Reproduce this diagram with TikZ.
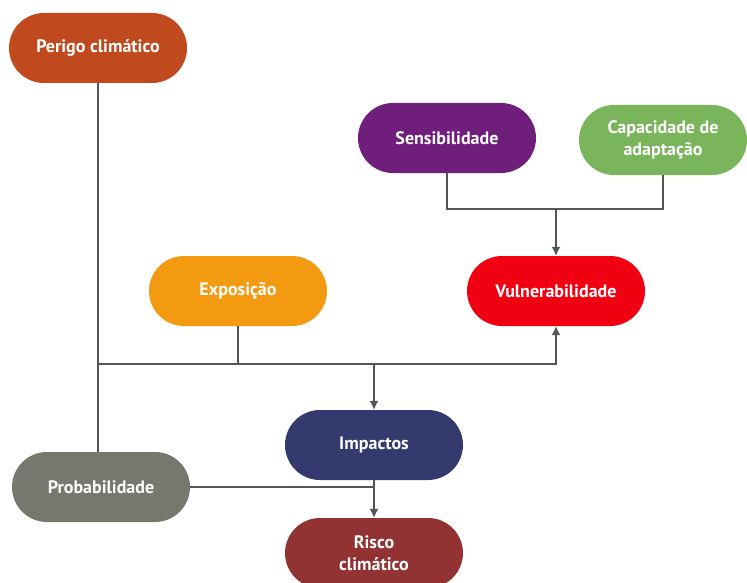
\documentclass[tikz,border=0pt]{standalone}
\usepackage{fontspec}
\setmainfont{PT Sans}
\usepackage{tikz}
\usetikzlibrary{arrows.meta}

\definecolor{perigo}{RGB}{192,74,30}
\definecolor{sensib}{RGB}{112,30,124}
\definecolor{capac}{RGB}{122,181,92}
\definecolor{expos}{RGB}{243,154,16}
\definecolor{vulner}{RGB}{240,0,16}
\definecolor{impac}{RGB}{52,58,110}
\definecolor{probab}{RGB}{120,119,110}
\definecolor{risco}{RGB}{146,50,50}
\definecolor{linha}{RGB}{85,85,85}

\begin{document}
\begin{tikzpicture}[x=1pt,y=-1pt,
        caixa/.style={rectangle,rounded corners=35pt,minimum width=178pt,minimum height=70pt,
            inner sep=0pt,align=center,text=white,font=\fontsize{18}{22}\selectfont\bfseries},
        liga/.style={draw=linha,line width=1.4pt},
        seta/.style={liga,-{Latex[length=9pt,width=9pt]}}]
        \useasboundingbox (0,0) rectangle (747,583);
        \node[caixa,fill=perigo](perigo)at(98,48){Perigo climático};
        \node[caixa,fill=sensib](sensib)at(447,138){Sensibilidade};
        \node[caixa,fill=capac,minimum width=168pt](capac)at(663,140){Capacidade de\\adaptação};
        \node[caixa,fill=expos](expos)at(238,291){Exposição};
        \node[caixa,fill=vulner](vulner)at(556,291){Vulnerabilidade};
        \node[caixa,fill=impac](impac)at(374,445){Impactos};
        \node[caixa,fill=probab](probab)at(101,487){Probabilidade};
        \node[caixa,fill=risco](risco)at(374,553){Risco\\climático};
        \coordinate(juncao)at(98,364);
        \coordinate(topo)at(556,209);
        \draw[liga](perigo.south)--(perigo.south|-probab.north);
        \draw[seta](juncao)-|(vulner.south);
        \draw[liga](expos.south)--(expos.south|-juncao);
        \draw[seta](impac.north|-juncao)--(impac.north);
        \draw[liga](sensib.south)|-(topo)-|(capac.south);
        \draw[seta](topo)--(vulner.north);
        \draw[liga](probab.east)--(probab.east-|impac.south);
        \draw[seta](impac.south)--(risco.north);
    \end{tikzpicture}
\end{document}
